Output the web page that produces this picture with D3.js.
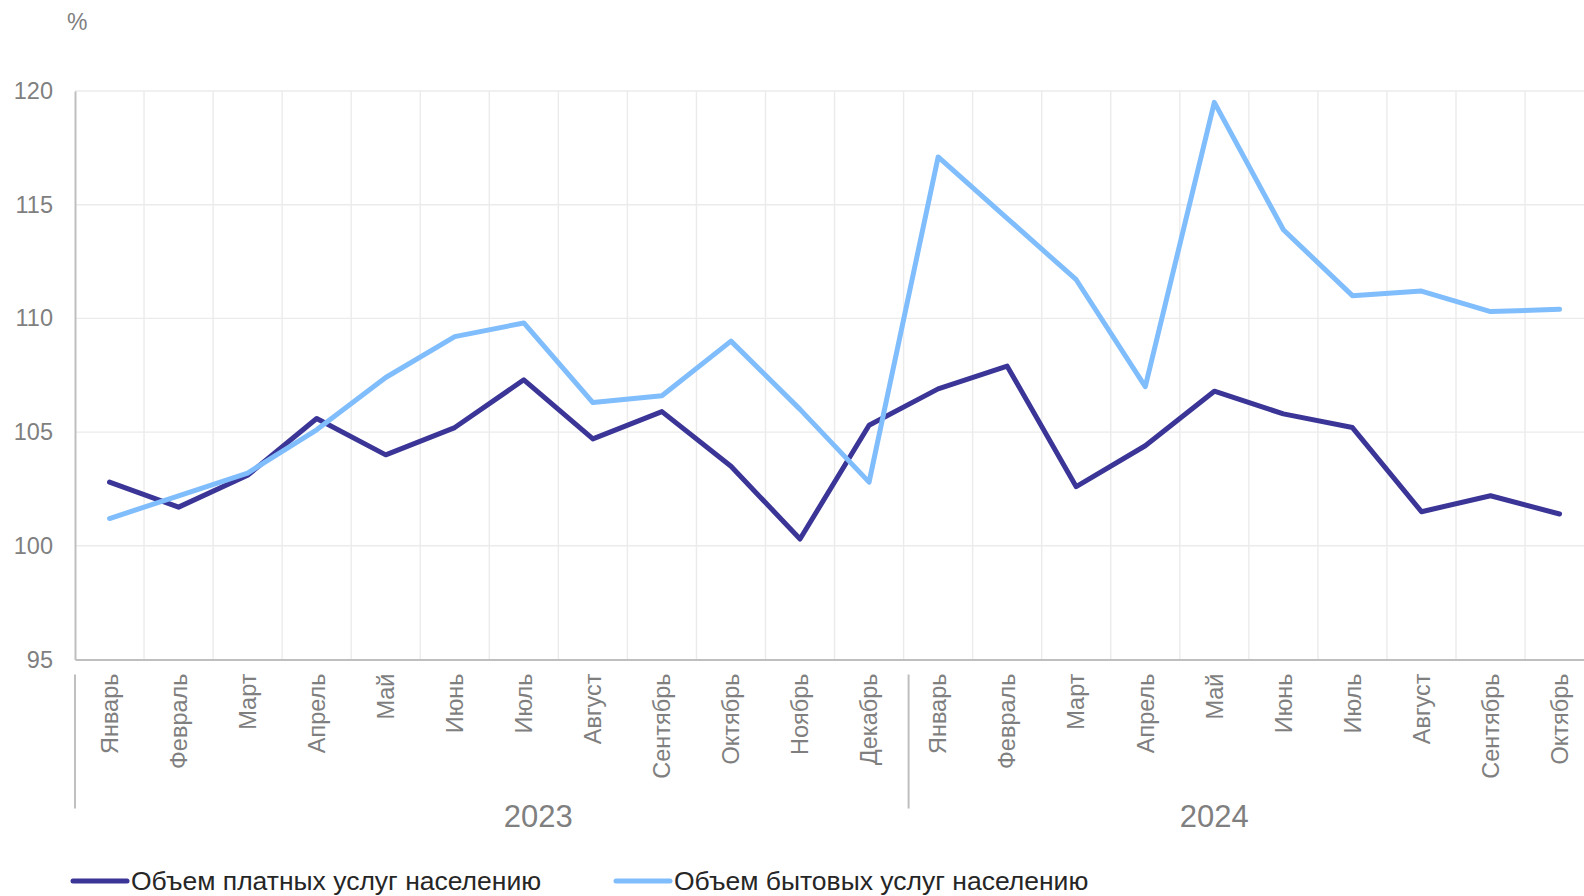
<!DOCTYPE html>
<html>
<head>
<meta charset="utf-8">
<script src="https://cdn.jsdelivr.net/npm/d3@7"></script>
<style>
  html, body { margin: 0; padding: 0; background: #fff; }
  svg { display: block; font-family: "Liberation Sans", Arial, sans-serif; }
</style>
</head>
<body>
<div id="chart"></div>
<script>
// months per year, in order
let months2023 = ["Январь", "Февраль", "Март", "Апрель", "Май", "Июнь", "Июль",
                  "Август", "Сентябрь", "Октябрь", "Ноябрь", "Декабрь"];
let months2024 = ["Январь", "Февраль", "Март", "Апрель", "Май", "Июнь", "Июль",
                  "Август", "Сентябрь", "Октябрь"];
let years = ["2023", "2024"];

// % to the same month of previous year
let paidServices = [102.8, 101.7, 103.1, 105.6, 104.0, 105.2, 107.3, 104.7, 105.9, 103.5, 100.3, 105.3,
                    106.9, 107.9, 102.6, 104.4, 106.8, 105.8, 105.2, 101.5, 102.2, 101.4];
let householdServices = [101.2, 102.2, 103.2, 105.1, 107.4, 109.2, 109.8, 106.3, 106.6, 109.0, 106.0, 102.8,
                         117.1, 114.4, 111.7, 107.0, 119.5, 113.9, 111.0, 111.2, 110.3, 110.4];

let seriesNames = ["Объем платных услуг населению", "Объем бытовых услуг населению"];
let yTicks = [95, 100, 105, 110, 115, 120];

/** layout **/
let W = 1584, H = 896;
let margin = {top: 91, left: 75},
    band = 69.05,
    plotBottom = 659.5;

let colors = ["#3a3596", "#80bdfc"];
let gray = "#7f7f7f";

let labels = months2023.concat(months2024);
let idx = d3.range(labels.length);

let x = d3.scaleBand()
    .domain(idx)
    .range([margin.left, margin.left + band * idx.length])
    .padding(0);

let y = d3.scaleLinear()
    .domain([95, 120])
    .range([plotBottom, margin.top]);

let svg = d3.select("#chart").append("svg")
    .attr("width", W)
    .attr("height", H);

// horizontal grid
svg.append("g")
    .selectAll("line")
    .data(yTicks.filter(function(d) { return d > 95; }))
    .join("line")
    .attr("x1", margin.left).attr("x2", W)
    .attr("y1", function(d) { return y(d); })
    .attr("y2", function(d) { return y(d); })
    .attr("stroke", "#ebebeb")
    .attr("stroke-width", 1.4);

// vertical grid at category boundaries
svg.append("g")
    .selectAll("line")
    .data(idx.slice(1))
    .join("line")
    .attr("x1", function(d) { return x(d); })
    .attr("x2", function(d) { return x(d); })
    .attr("y1", y(120)).attr("y2", plotBottom)
    .attr("stroke", "#ebebeb")
    .attr("stroke-width", 1.4);

// y axis
let yAxis_g = svg.append("g")
    .attr("transform", "translate(" + margin.left + ",0)")
    .call(d3.axisLeft(y).tickValues(yTicks).tickSize(0).tickPadding(22));
yAxis_g.select(".domain").attr("stroke", "#bfbfbf").attr("stroke-width", 2);
yAxis_g.selectAll("text")
    .attr("fill", gray)
    .style("font-size", "23.5px")
    .style("font-family", "Liberation Sans, Arial, sans-serif");

// x axis
let xAxis_g = svg.append("g")
    .attr("transform", "translate(0," + plotBottom + ")")
    .call(d3.axisBottom(x).tickSize(0).tickFormat(function(d) { return labels[d]; }));
xAxis_g.select(".domain").attr("stroke", "#bfbfbf").attr("stroke-width", 2);
xAxis_g.selectAll("text")
    .attr("fill", gray)
    .style("font-size", "23.5px")
    .style("font-family", "Liberation Sans, Arial, sans-serif")
    .attr("text-anchor", "end")
    .attr("transform", "rotate(-90)")
    .attr("x", -14)
    .attr("y", 0)
    .attr("dy", "0.35em");

// year group separators
let groupStarts = [0, months2023.length];
svg.append("g")
    .selectAll("line")
    .data(groupStarts)
    .join("line")
    .attr("x1", function(d) { return x(d) + (d ? 5 : 0); })
    .attr("x2", function(d) { return x(d) + (d ? 5 : 0); })
    .attr("y1", plotBottom + 15).attr("y2", plotBottom + 149)
    .attr("stroke", "#bfbfbf")
    .attr("stroke-width", 2);

// year labels
let yearAt = [6.71, 16.5];
svg.append("g")
    .selectAll("text")
    .data(years)
    .join("text")
    .attr("x", function(d, i) { return margin.left + yearAt[i] * x.bandwidth(); })
    .attr("y", plotBottom + 157)
    .attr("dy", "0.35em")
    .attr("text-anchor", "middle")
    .attr("fill", gray)
    .style("font-size", "31px")
    .text(function(d) { return d; });

// unit
svg.append("text")
    .attr("x", 67).attr("y", 22)
    .attr("dy", "0.35em")
    .attr("fill", gray)
    .style("font-size", "23px")
    .text("%");

// lines
let line = d3.line()
    .x(function(d, i) { return x(i) + x.bandwidth() / 2; })
    .y(function(d) { return y(d); });

[paidServices, householdServices].forEach(function(s, i) {
  svg.append("path")
      .datum(s)
      .attr("fill", "none")
      .attr("stroke", colors[i])
      .attr("stroke-width", 5)
      .attr("stroke-linejoin", "round")
      .attr("stroke-linecap", "round")
      .attr("d", line);
});

// legend
let legendX = [73, 616];
let legend = svg.append("g")
    .selectAll("g")
    .data(seriesNames)
    .join("g")
    .attr("transform", function(d, i) { return "translate(" + legendX[i] + ",881)"; });
legend.append("line")
    .attr("x1", 0).attr("x2", 54)
    .attr("stroke", function(d, i) { return colors[i]; })
    .attr("stroke-width", 5)
    .attr("stroke-linecap", "round");
legend.append("text")
    .attr("x", 58)
    .attr("dy", "0.35em")
    .attr("fill", "#262626")
    .style("font-size", "26.5px")
    .text(function(d) { return d; });
</script>
</body>
</html>
